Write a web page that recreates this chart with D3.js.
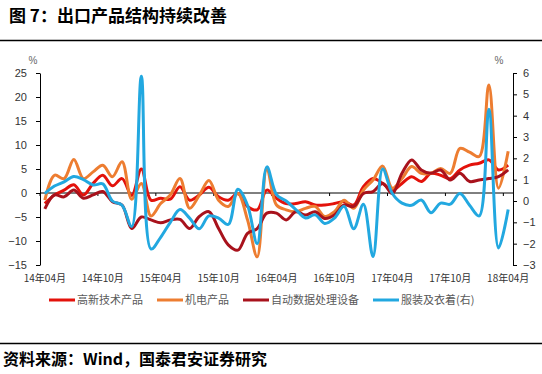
<!DOCTYPE html>
<html>
<head>
<meta charset="utf-8">
<script src="https://cdn.jsdelivr.net/npm/d3@7"></script>
<style>
  body { margin: 0; background: #fff; }
  svg { display: block; }
</style>
</head>
<body>
<div id="chartContainer"></div>
<script>
// months 14年04月 .. 18年04月
var months = [],
    tickMonths = ['14年04月', '14年10月', '15年04月', '15年10月', '16年04月',
        '16年10月', '17年04月', '17年10月', '18年04月'],
    seriesNames = ['高新技术产品', '机电产品', '自动数据处理设备', '服装及衣着(右)'],
    leftTicks = [-15, -10, -5, 0, 5, 10, 15, 20, 25],
    rightTicks = [-3, -2, -1, 0, 1, 2, 3, 4, 5, 6];

var hiTech = [-2.2, -0.4, 0.6, 1.7, -0.4, 2.0, 3.7, 1.5, 3.0, -0.5, 5.0, -1.5, -1.1,
    -1.3, 1.3, -1.5, -0.4, 1.2, -0.8, -1.5, -0.1, -2.8, -3.5, 0.6, -1.1,
    -2.2, -2.2, -1.8, -2.5, -2.5, -2.2, -1.8, -2.5, 1.3, 3.0, 2.0, 0.6,
    2.0, 3.4, 2.4, 4.1, 3.7, 3.0, 4.8, 5.8, 6.2, 6.9, 4.8, 5.8];
var electro = [-1.5, 3.7, 3.0, 7.0, 3.0, 4.4, 5.8, 3.4, 6.5, -1.3, 2.0, -4.8, -2.2,
    -0.4, 3.0, -3.2, -0.5, 2.6, -1.5, -2.8, -0.1, -5.6, -13.3, 5.1, -2.5,
    -3.5, -3.9, -3.2, -2.8, -4.9, -3.9, -1.5, -3.2, 0.6, 2.7, 5.6, 1.0,
    3.0, 5.5, 4.1, 4.1, 5.1, 4.1, 9.3, 8.5, 7.6, 22.5, 1.0, 8.7];
var dataProc = [-3.3, -0.4, -0.8, 0.6, -1.1, -0.4, 0.3, -1.8, -2.5, -7.4, -5.0, -5.6, -6.2,
    -5.6, -5.5, -7.4, -4.9, -3.9, -7.4, -10.8, -11.9, -8.4, -7.4, -4.2, -4.2,
    -5.6, -3.9, -4.6, -3.9, -5.3, -4.6, -2.5, -2.8, -0.1, 0.3, 2.0, -0.1,
    4.1, 6.9, 4.8, 4.1, 4.8, 2.7, 4.1, 2.4, 2.7, 3.0, 3.4, 4.8];
var clothing = [0.35, 0.7, 0.9, 1.15, 1.0, 0.75, 0.8, 0.0, -0.2, -1.2, 5.85, -2.25, -1.7,
    -1.0, -0.4, -0.8, -1.3, -0.7, -0.8, -1.1, 0.55, -0.2, -2.0, 1.6, 0.3,
    0.0, -0.4, -0.8, -0.65, -1.05, -0.8, -0.25, -1.3, -0.15, -2.6, 1.5, 0.35,
    -0.1, -0.2, 0.05, -0.55, -0.1, -0.15, 0.35, -0.2, -0.7, 4.3, -2.2, -0.4];

(function () {
    var y, m;
    for (y = 14; y <= 18; y++) {
        for (m = 1; m <= 12; m++) {
            if ((y === 14 && m < 4) || (y === 18 && m > 4)) continue;
            months.push(y + '年' + (m < 10 ? '0' + m : m) + '月');
        }
    }
})();

var width = 542,
    height = 374,
    colors = ['#e3120b', '#ed7d31', '#a8121c', '#22a8e0'],
    cjk = '"Noto Sans CJK SC", sans-serif',
    num = '"Liberation Sans", Arial, sans-serif',
    svg = d3.select('#chartContainer').append('svg')
        .attr('width', width)
        .attr('height', height);

var x = d3.scaleBand().domain(months).range([40, 513]),
    yL = d3.scaleLinear().domain([-15, 25]).range([265, 73]),
    yR = d3.scaleLinear().domain([-3, 6]).range([265, 73]),
    mid = x.bandwidth() / 2;

// title and rules
svg.append('text')
    .attr('x', 9)
    .attr('y', 22)
    .style('font-family', cjk)
    .style('font-weight', 700)
    .style('font-size', '17px')
    .text('图 7：出口产品结构持续改善');
svg.append('line')
    .attr('x1', 0).attr('x2', width)
    .attr('y1', 40.5).attr('y2', 40.5)
    .style('stroke', '#000').style('stroke-width', 1.3);
svg.append('line')
    .attr('x1', 0).attr('x2', width)
    .attr('y1', 343.5).attr('y2', 343.5)
    .style('stroke', '#000').style('stroke-width', 1.3);
svg.append('text')
    .attr('x', 3)
    .attr('y', 365)
    .style('font-family', cjk)
    .style('font-weight', 700)
    .style('font-size', '16px')
    .text('资料来源：Wind，国泰君安证券研究');

// axes
var leftAxis = svg.append('g')
    .attr('transform', 'translate(40,0)')
    .call(d3.axisLeft(yL).tickValues(leftTicks).tickSizeInner(4).tickSizeOuter(0).tickPadding(9));
var rightAxis = svg.append('g')
    .attr('transform', 'translate(513,0)')
    .call(d3.axisRight(yR).tickValues(rightTicks).tickSizeInner(4).tickSizeOuter(0).tickPadding(6));
var labelAxis = svg.append('g')
    .attr('transform', 'translate(0,265)')
    .call(d3.axisBottom(x).tickValues(tickMonths).tickSize(0).tickPadding(10));
labelAxis.select('.domain').remove();

[leftAxis, rightAxis, labelAxis].forEach(function (g) {
    g.selectAll('text')
        .style('font-family', num)
        .style('font-size', '11px')
        .style('fill', '#333');
    g.selectAll('.domain, line').style('stroke', '#000');
});
labelAxis.selectAll('text').style('font-size', '10px').style('font-family', cjk);

svg.append('line')
    .attr('x1', x.range()[0]).attr('x2', x.range()[1])
    .attr('y1', yL(0)).attr('y2', yL(0))
    .style('stroke', '#000');
svg.selectAll('.xtick')
    .data(tickMonths)
    .enter()
    .append('line')
    .attr('class', 'xtick')
    .attr('x1', function (d) { return x(d); })
    .attr('x2', function (d) { return x(d); })
    .attr('y1', yL(0))
    .attr('y2', yL(0) + 3)
    .style('stroke', '#000');

svg.append('text')
    .attr('x', 33).attr('y', 64)
    .attr('text-anchor', 'middle')
    .style('font-family', num).style('font-size', '10px').style('fill', '#666')
    .text('%');
svg.append('text')
    .attr('x', 499).attr('y', 64)
    .attr('text-anchor', 'middle')
    .style('font-family', num).style('font-size', '10px').style('fill', '#666')
    .text('%');

// lines
var series = [
    { values: hiTech, scale: yL },
    { values: electro, scale: yL },
    { values: dataProc, scale: yL },
    { values: clothing, scale: yR }
];

series.forEach(function (s, k) {
    var line = d3.line()
        .x(function (d, i) { return x(months[i]) + mid; })
        .y(function (d) { return s.scale(d); })
        .curve(d3.curveCatmullRom.alpha(0.5));
    svg.append('path')
        .datum(s.values)
        .attr('d', line)
        .style('fill', 'none')
        .style('stroke', colors[k])
        .style('stroke-width', 3)
        .style('stroke-linejoin', 'round');
});

// legend
var lx = 49;
seriesNames.forEach(function (name, k) {
    var t;
    svg.append('line')
        .attr('x1', lx).attr('x2', lx + 26)
        .attr('y1', 300).attr('y2', 300)
        .style('stroke', colors[k])
        .style('stroke-width', 3);
    t = svg.append('text')
        .attr('x', lx + 28)
        .attr('y', 304)
        .style('font-family', cjk)
        .style('font-size', '11px')
        .style('fill', '#595959')
        .text(name);
    lx += 28 + t.node().getComputedTextLength() + 14;
});
</script>
</body>
</html>
